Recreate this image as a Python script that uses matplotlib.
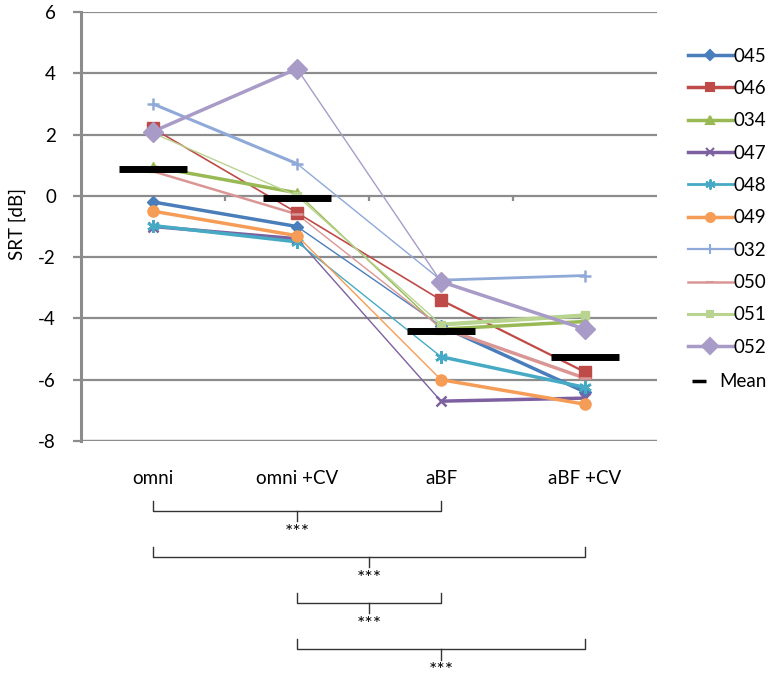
import matplotlib
matplotlib.use("Agg")
import matplotlib.pyplot as plt
from matplotlib.lines import Line2D
from matplotlib.transforms import blended_transform_factory
import numpy as np

plt.rcParams['font.family'] = ['Lato', 'DejaVu Sans']

# ---------------- data ----------------
categories = ["omni", "omni +CV", "aBF", "aBF +CV"]
subjects = ["045", "046", "034", "047", "048", "049", "032", "050", "051", "052"]

s045 = [-0.2, -1.0, -4.25, -6.4]
s046 = [2.2, -0.55, -3.4, -5.75]
s034 = [0.95, 0.1, -4.35, -4.1]
s047 = [-1.0, -1.4, -6.7, -6.6]
s048 = [-0.97, -1.5, -5.25, -6.25]
s049 = [-0.5, -1.3, -6.0, -6.8]
s032 = [3.0, 1.05, -2.75, -2.6]
s050 = [0.8, -0.6, -4.3, -5.95]
s051 = [2.05, 0.0, -4.2, -3.9]
s052 = [2.1, 4.15, -2.8, -4.35]
series_values = [s045, s046, s034, s047, s048, s049, s032, s050, s051, s052]

mean_values = [0.87, -0.08, -4.4, -5.25]

comparisons = [(0, 2), (0, 3), (1, 2), (1, 3)]
comparison_labels = ["***", "***", "***", "***"]

y_ticks = [-8, -6, -4, -2, 0, 2, 4, 6]

# ---------------- styles ----------------
colors = ["#4A7EBB", "#BE4B48", "#98B954", "#7D60A0", "#46AAC5",
          "#F59D56", "#8FA9D8", "#D99694", "#B9D490", "#A99BC7"]
markers = ["D", "s", "^", "x", (6, 2, 0), "o", "+", "_", "s", "D"]
msizes = [6.5, 8, 7.5, 7, 9, 8, 9, 8, 5.5, 10]
seg_widths = [[2.5, 1.0, 2.5], [1.2, 1.2, 1.6], [2.5, 1.0, 2.5], [2.5, 1.0, 2.5],
              [2.5, 1.0, 2.5], [2.5, 1.0, 2.5], [2.2, 1.0, 2.0], [1.8, 1.0, 2.5],
              [1.0, 1.0, 3.0], [2.5, 1.0, 2.5]]
legend_lw = [2.5, 2.5, 2.5, 2.5, 2.0, 2.5, 1.6, 1.8, 2.2, 2.5]

grid_col = "#8C8C8C"
fs = 13.5

fig = plt.figure(figsize=(7.75, 6.78), dpi=100)
ax = fig.add_axes([81 / 775, 1 - 441 / 678, 576 / 775, 429 / 678])

x = np.arange(len(categories))

for i, vals in enumerate(series_values):
    for k in range(len(x) - 1):
        ax.plot(x[k:k + 2], vals[k:k + 2], color=colors[i], lw=seg_widths[i][k],
                solid_capstyle='butt', zorder=3)
for i, vals in enumerate(series_values):
    mew = 1.8 if markers[i] in ("x", "+", "_") or isinstance(markers[i], tuple) else 1.0
    ax.plot(x, vals, linestyle='none', marker=markers[i], ms=msizes[i],
            color=colors[i], mec=colors[i], mew=mew, zorder=4)

# mean bars
ax.plot(x, mean_values, linestyle='none', marker='_', ms=49, mew=5,
        color='black', zorder=5)

ax.set_xlim(-0.5, len(categories) - 0.5)
ax.set_ylim(-8, 6)
ax.set_yticks(y_ticks)
ax.set_yticklabels([str(t) for t in y_ticks], fontsize=fs)
ax.set_xticks(x)
ax.set_xticklabels(categories, fontsize=fs)
ax.tick_params(axis='x', length=0, pad=21)
ax.tick_params(axis='y', direction='out', length=6, width=1.6, color=grid_col, pad=12)

for s in ["top", "right", "bottom"]:
    ax.spines[s].set_visible(False)
ax.spines["left"].set_color(grid_col)
ax.spines["left"].set_linewidth(2.2)
ax.yaxis.grid(True, color=grid_col, lw=1.6)
ax.set_axisbelow(True)
ax.axhline(-8, color=grid_col, lw=1.6, zorder=1)

# category separator ticks on the zero axis
ax.vlines(x[:-1] + 0.5, -0.18, 0, color=grid_col, lw=1.6, zorder=1)

ax.set_ylabel("SRT [dB]", fontsize=fs)
ax.yaxis.set_label_coords(-55 / 576, 1 - (224 - 12) / 429)

# legend
handles = []
for i, name in enumerate(subjects):
    handles.append(Line2D([], [], color=colors[i], lw=legend_lw[i], marker=markers[i],
                          ms=msizes[i] * 0.8, mew=1.5))
leg1 = fig.legend(handles, subjects, loc='upper left',
                  bbox_to_anchor=(680 / 775, 1 - 40 / 678), frameon=False, fontsize=fs,
                  handlelength=2.4, handletextpad=0.05, labelspacing=0.82,
                  borderaxespad=0)
mean_handle = Line2D([], [], color='black', lw=0, marker='_', ms=10, mew=2.5)
fig.legend([mean_handle], ["Mean"], loc='center left',
           bbox_to_anchor=(690 / 775, 1 - 382 / 678), frameon=False, fontsize=fs,
           handlelength=1.0, handletextpad=0.55, borderaxespad=0, borderpad=0)

# significance brackets
tr = blended_transform_factory(ax.transData, fig.transFigure)
H = 678.0
for j, ((a, b), lab) in enumerate(zip(comparisons, comparison_labels)):
    top = 500.7 + j * 46.1
    line_y = top + 10
    tip = line_y + 10.5
    xa, xb = x[a], x[b]
    xm = (xa + xb) / 2
    kw = dict(color="#333333", lw=1.0, transform=tr, clip_on=False)
    ax.plot([xa, xa, xb, xb], [1 - top / H, 1 - line_y / H, 1 - line_y / H, 1 - top / H], **kw)
    ax.plot([xm, xm], [1 - line_y / H, 1 - tip / H], **kw)
    ax.text(xm, 1 - (tip + 11) / H, lab, transform=tr, ha='center', va='center',
            fontsize=14, color='black')

fig.savefig("out.png", dpi=100)
